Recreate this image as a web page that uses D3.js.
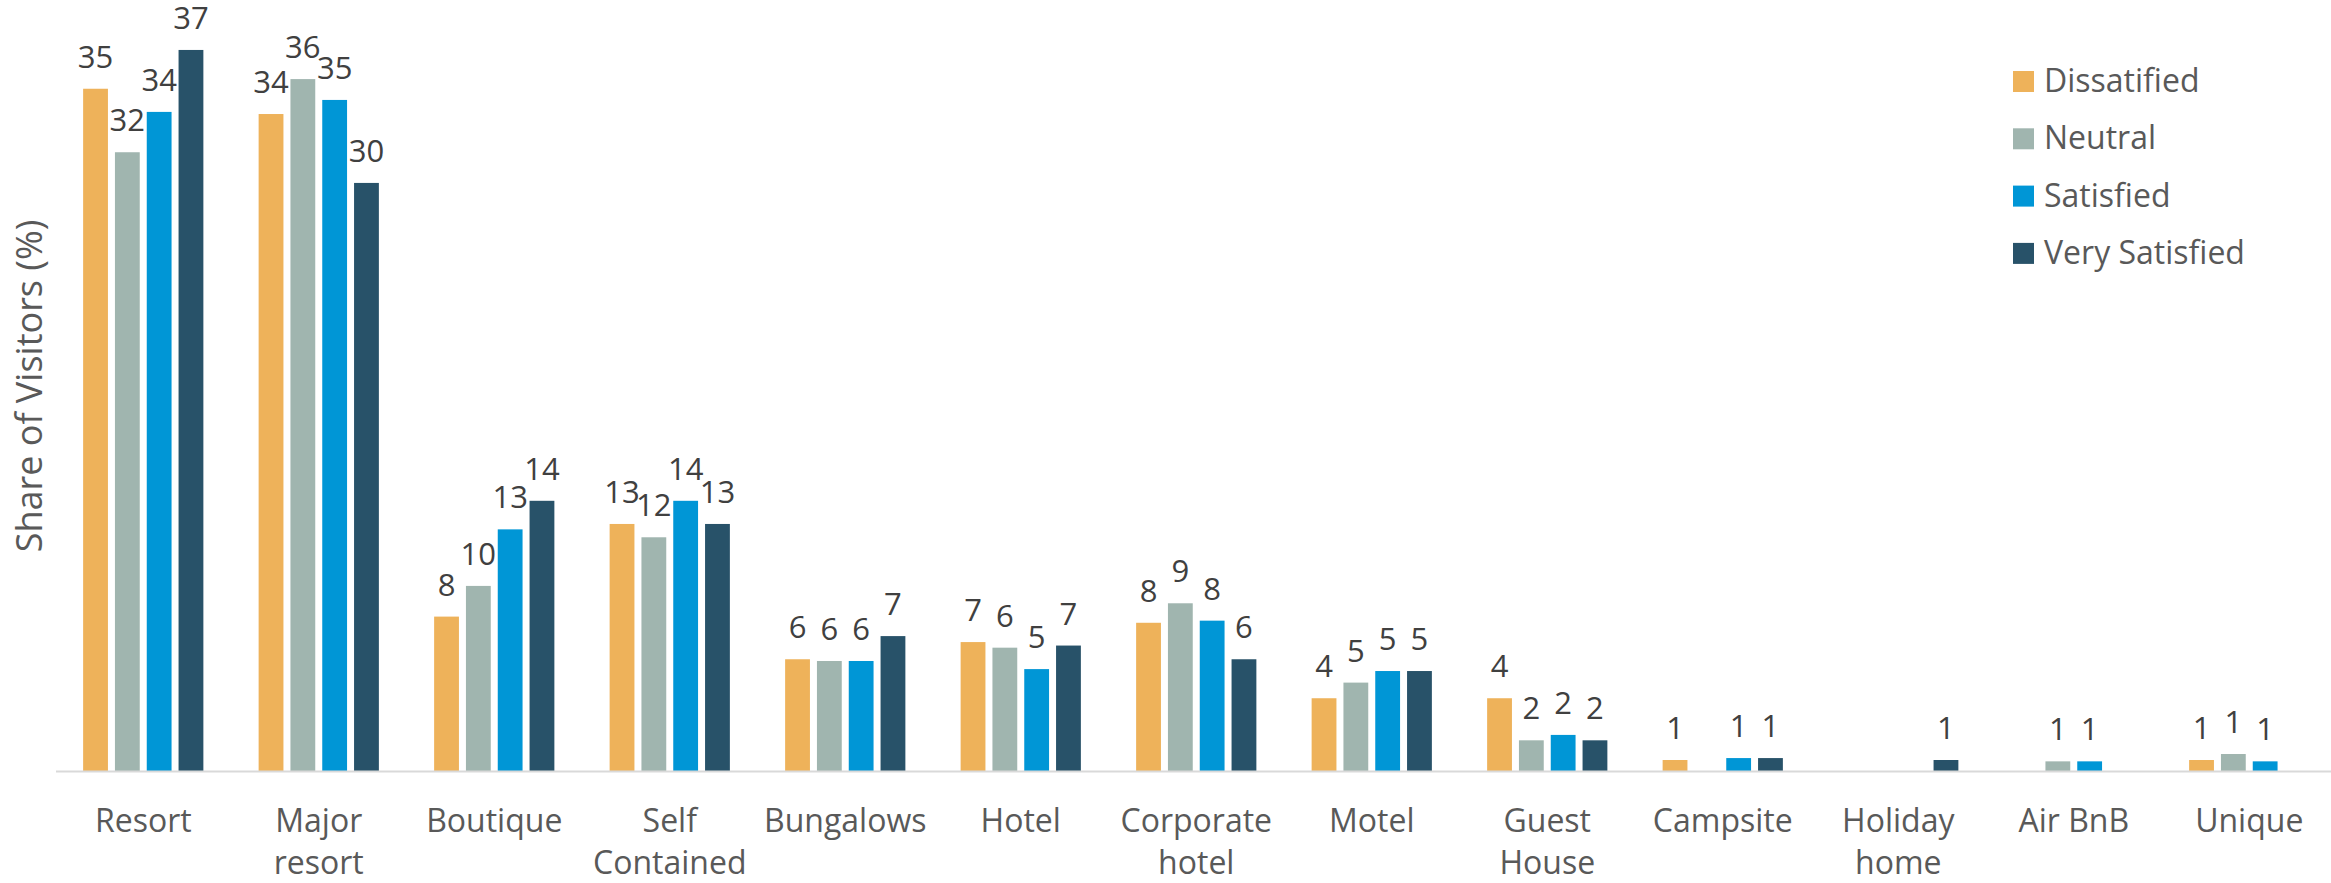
<!DOCTYPE html>
<html>
  <head>
    <script src="https://cdn.jsdelivr.net/npm/d3@7/dist/d3.min.js" charset="utf-8"></script>
    <style>
      body { margin: 0; background: #fff; }
      text { font-family: "Open Sans", "Noto Sans", sans-serif; }
    </style>
  </head>
  <body>
    <svg id="chart" width="2331" height="883"></svg>
    <script>
      // categories and wrapped tick labels
      var categories = ["Resort", "Major resort", "Boutique", "Self Contained", "Bungalows", "Hotel",
        "Corporate hotel", "Motel", "Guest House", "Campsite", "Holiday home", "Air BnB", "Unique"];
      var tickLabels = [["Resort"], ["Major", "resort"], ["Boutique"], ["Self", "Contained"], ["Bungalows"], ["Hotel"],
        ["Corporate", "hotel"], ["Motel"], ["Guest", "House"], ["Campsite"], ["Holiday", "home"], ["Air BnB"], ["Unique"]];

      var seriesNames = ["Dissatified", "Neutral", "Satisfied", "Very Satisfied"];
      var seriesColors = ["#EEB25A", "#A0B5AF", "#0096D6", "#285269"];

      // share of visitors (%)
      var dissatisfied  = [35.35, 34.04, 8.0, 12.8, 5.79, 6.68, 7.68, 3.77, 3.77, 0.57, 0, 0, 0.57];
      var neutral       = [32.06, 35.85, 9.59, 12.11, 5.7, 6.39, 8.69, 4.58, 1.59, 0, 0, 0.5, 0.88];
      var satisfied     = [34.15, 34.77, 12.52, 14.0, 5.7, 5.28, 7.79, 5.18, 1.87, 0.67, 0, 0.5, 0.5];
      var verySatisfied = [37.36, 30.47, 14.0, 12.8, 6.99, 6.5, 5.79, 5.18, 1.59, 0.67, 0.57, 0, 0];

      var series = [dissatisfied, neutral, satisfied, verySatisfied];

      var svg = d3.select("#chart");

      var x0 = d3.scaleBand().domain(categories).range([55.5, 2337]).paddingInner(0.275).paddingOuter(0.1375);
      var x1 = d3.scaleBand().domain(d3.range(4)).range([0, x0.bandwidth()]).paddingInner(0.22).paddingOuter(0.11);
      var y = d3.scaleLinear().domain([0, 40]).range([771, -1]);

      var rows = categories.map((c, i) => ({cat: c, vals: series.map((s, k) => ({k: k, v: s[i]}))}));

      var groups = svg.append("g").selectAll("g").data(rows).enter().append("g")
        .attr("transform", d => `translate(${x0(d.cat)},0)`);

      groups.selectAll("rect").data(d => d.vals.filter(e => e.v > 0)).enter().append("rect")
        .attr("x", d => x1(d.k))
        .attr("width", x1.bandwidth())
        .attr("y", d => y(d.v))
        .attr("height", d => y(0) - y(d.v))
        .attr("fill", d => seriesColors[d.k]);

      groups.selectAll("text").data(d => d.vals.filter(e => e.v > 0)).enter().append("text")
        .attr("x", d => x1(d.k) + x1.bandwidth() / 2)
        .attr("y", d => y(d.v) - 21)
        .attr("text-anchor", "middle")
        .attr("font-size", 31)
        .attr("fill", "#404040")
        .text(d => Math.round(d.v));

      // x axis
      var xAxis = svg.append("g").attr("transform", `translate(0,${y(0)})`)
        .call(d3.axisBottom(x0).tickSize(0).tickSizeOuter(0));
      xAxis.select(".domain").attr("stroke", "#d9d9d9").attr("stroke-width", 2);
      xAxis.selectAll(".tick text").remove();
      xAxis.selectAll(".tick").append("text")
        .attr("text-anchor", "middle")
        .attr("font-size", 32)
        .attr("fill", "#595959")
        .attr("y", 61)
        .selectAll("tspan").data((d, i) => tickLabels[i]).enter().append("tspan")
        .attr("x", 0)
        .attr("dy", (d, i) => i === 0 ? 0 : 42)
        .text(d => d);

      // y axis title
      svg.append("text")
        .attr("transform", "translate(42,386) rotate(-90)")
        .attr("text-anchor", "middle")
        .attr("font-size", 36)
        .attr("fill", "#595959")
        .text("Share of Visitors (%)");

      // legend
      var legend = svg.append("g").selectAll("g").data(seriesNames).enter().append("g")
        .attr("transform", (d, i) => `translate(2013,${81.5 + i * 57.3})`);
      legend.append("rect").attr("x", 0).attr("y", -10.5).attr("width", 21).attr("height", 21)
        .attr("fill", (d, i) => seriesColors[i]);
      legend.append("text").attr("x", 31).attr("y", 10.5)
        .attr("font-size", 32).attr("fill", "#595959")
        .text(d => d);
    </script>
  </body>
</html>
